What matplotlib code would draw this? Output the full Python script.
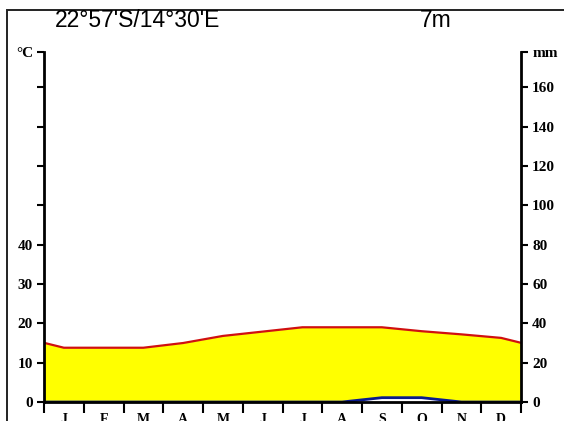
import numpy as np
import matplotlib.pyplot as plt
from matplotlib.patches import Rectangle

# ---- data ----
months = ["J", "F", "M", "A", "M", "J", "J", "A", "S", "O", "N", "D"]
temp_c = [13.8, 13.8, 13.8, 15.0, 16.8, 17.9, 19.0, 19.0, 19.0, 18.0, 17.2, 16.3]
precip_mm = [0, 0, 0, 0, 0, 0, 0, 0, 2.2, 2.2, 0, 0]
title_left = "22°57'S/14°30'E"
title_right = "7m"
temp_ticks = [0, 10, 20, 30, 40, 50, 60, 70, 80]
temp_labels = ["0", "10", "20", "30", "40", "", "", "", ""]
precip_labels = ["0", "20", "40", "60", "80", "100", "120", "140", "160"]

# ---- build curves (wrap ends like a Walter-Lieth diagram) ----
t = np.array(temp_c)
p = np.array(precip_mm) / 2.0  # 20 mm = 10 degC
x = np.concatenate([[0], np.arange(12) + 0.5, [12]])
t_full = np.concatenate([[(t[0] + t[-1]) / 2], t, [(t[0] + t[-1]) / 2]])
p_full = np.concatenate([[(p[0] + p[-1]) / 2], p, [(p[0] + p[-1]) / 2]])

W, H = 564, 421
fig = plt.figure(figsize=(W / 100, H / 100), dpi=100)
ax = fig.add_axes([44 / W, 19 / H, 477 / W, 350 / H])

ytop = 89
ax.fill_between(x, p_full, t_full, where=t_full >= p_full, color="#FFFF00", zorder=1, lw=0)
ax.plot(x, t_full, color="#D01010", lw=1.6, zorder=3)
ax.plot(x, p_full, color="#0A1A8C", lw=2.0, zorder=2)

ax.set_xlim(0, 12)
ax.set_ylim(0, ytop)

for s in ["left", "right", "bottom"]:
    ax.spines[s].set_linewidth(2)
    ax.spines[s].set_zorder(4)
ax.spines["top"].set_visible(False)

serif = dict(family="Liberation Serif", weight="bold", size=11)

# left axis: temperature
ax.set_yticks(temp_ticks + [ytop])
ax.set_yticklabels(temp_labels + ["°C"], fontdict=serif)
ax.tick_params(axis="y", direction="out", length=5, width=1.5, pad=3)

# right axis: precipitation
ax2 = ax.twinx()
ax2.set_ylim(0, ytop * 2)
ax2.set_yticks([v * 2 for v in temp_ticks] + [ytop * 2])
ax2.set_yticklabels(precip_labels + ["mm"], fontdict=serif)
ax2.tick_params(axis="y", direction="out", length=5, width=1.5, pad=3)
for s in ["left", "right", "bottom", "top"]:
    ax2.spines[s].set_visible(False)

# bottom: month boundaries and labels
ax.set_xticks(np.arange(13))
ax.set_xticklabels([])
ax.set_xticks(np.arange(12) + 0.5, minor=True)
ax.set_xticklabels(months, minor=True, fontdict=dict(serif, size=10))
ax.tick_params(axis="x", which="major", direction="out", length=8, width=1.5)
ax.tick_params(axis="x", which="minor", length=0, pad=8)

# header
fig.text(55 / W, 1 - 27 / H, title_left, family="Liberation Sans", size=16.5, va="baseline")
fig.text(420 / W, 1 - 27 / H, title_right, family="Liberation Sans", size=16.5, va="baseline")

# outer frame (cut off at right and bottom)
fig.add_artist(Rectangle((7 / W, -0.1), 1.2, 1.1 - 10 / H, transform=fig.transFigure,
                         fill=False, edgecolor="#222222", lw=1.4))

fig.savefig("out.png", dpi=100)
